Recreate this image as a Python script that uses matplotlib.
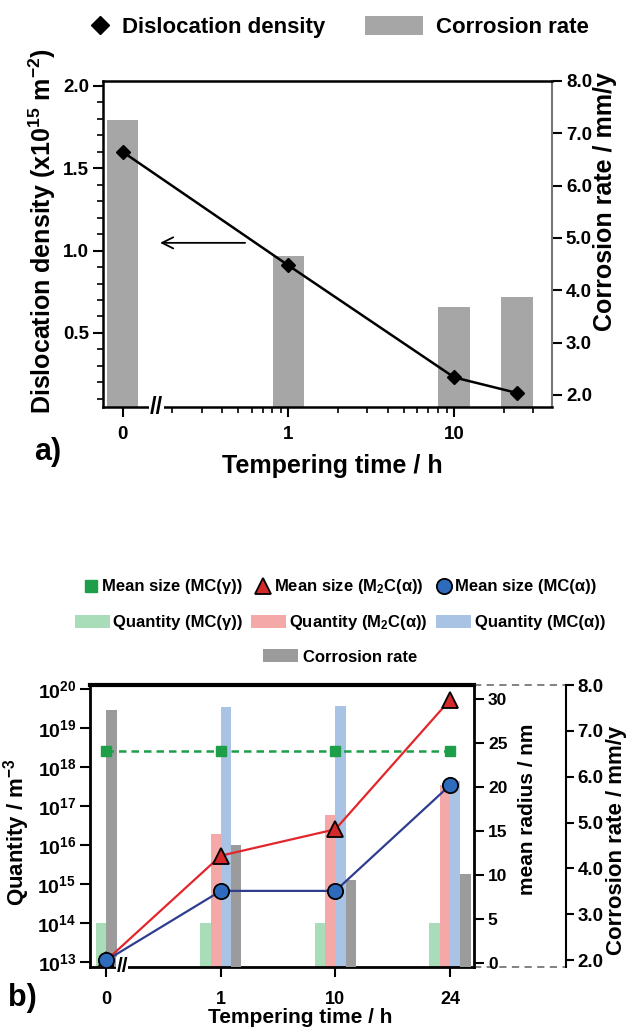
import math
import matplotlib
matplotlib.use("Agg")
import matplotlib.pyplot as plt
from matplotlib.lines import Line2D
from matplotlib.patches import Patch
from matplotlib.transforms import blended_transform_factory
from matplotlib.ticker import FixedLocator, NullFormatter, NullLocator, FormatStrFormatter, FuncFormatter

plt.rcParams.update({
    "font.family": ["Liberation Sans", "DejaVu Sans"],
    "font.weight": "bold",
    "axes.labelweight": "bold",
    "mathtext.fontset": "custom",
    "mathtext.rm": "Liberation Sans:bold",
    "mathtext.bf": "Liberation Sans:bold",
    "mathtext.it": "Liberation Sans:bold:italic",
    "mathtext.sf": "Liberation Sans:bold",
})

# ---------------- data: panel a ----------------
hours_a = [0, 1, 10, 24]
disloc_density = [1.60, 0.91, 0.23, 0.135]       # x10^15 m^-2
corrosion_a = [7.25, 4.65, 3.69, 3.87]           # mm/y
xtick_labels_a = ["0", "1", "10"]

# ---------------- data: panel b ----------------
hours_b = ["0", "1", "10", "24"]
qty_mc_gamma = [1.0e14, 1.0e14, 1.0e14, 1.0e14]
qty_m2c_alpha = [None, 1.9e16, 5.8e16, 3.5e17]
qty_mc_alpha = [None, 3.4e19, 3.6e19, 4.4e17]
corrosion_b = [7.45, 4.50, 3.75, 3.88]
size_mc_gamma = [24.1, 24.1, 24.1, 24.1]
size_m2c_alpha = [0.3, 12.2, 15.2, 29.9]
size_mc_alpha = [0.3, 8.2, 8.2, 20.2]

# ---------------- colours ----------------
c_bar_a = "#a6a6a6"
c_green_bar, c_pink_bar, c_blue_bar, c_gray_bar = "#a9dcb8", "#f4a8a8", "#a8c3e4", "#9b9b9b"
c_green, c_red, c_blue_line, c_blue_fill = "#1f9e4a", "#e3262b", "#2e3d8f", "#2f6bbd"

W, H = 633, 1033
fig = plt.figure(figsize=(W / 100, H / 100), dpi=100)


def rect(l, t, r, b):
    return [l / W, 1 - b / H, (r - l) / W, (b - t) / H]


def break_mark(ax, xdata, size):
    tr = blended_transform_factory(ax.transData, ax.transAxes)
    ax.text(xdata, 0, "//", transform=tr, ha="center", va="center", fontsize=size,
            fontweight="bold", clip_on=False, zorder=20,
            bbox=dict(facecolor="white", edgecolor="none", pad=0.3))


# =============== panel a ===============
ax_a = fig.add_axes(rect(103, 81, 552, 407))
ax_a2 = ax_a.twinx()
ax_a.set_zorder(ax_a2.get_zorder() + 1)
ax_a.patch.set_visible(False)

ZERO_POS = 0.1  # where "0 h" sits on the broken log axis
x_a = [ZERO_POS if h == 0 else h for h in hours_a]
half = 10 ** 0.095
ax_a2.bar([x / half for x in x_a], corrosion_a, width=[x * half - x / half for x in x_a],
          align="edge", color=c_bar_a, edgecolor="none")
ax_a.plot(x_a, disloc_density, color="black", lw=1.8, marker="D", ms=7.5,
          mfc="black", mec="black", zorder=3)
ax_a.annotate("", xy=(0.162, 1.047), xytext=(0.57, 1.047),
              arrowprops=dict(arrowstyle="->", color="black", lw=1.3, mutation_scale=20))

ax_a.set_xscale("log")
ax_a.set_xlim(0.0762, 38.9)
ax_a.xaxis.set_major_locator(FixedLocator([ZERO_POS, 1, 10]))
ax_a.set_xticklabels(xtick_labels_a)
ax_a.xaxis.set_minor_locator(FixedLocator([0.2, 0.3, 0.4, 0.5, 0.6, 0.7, 0.8, 0.9,
                                           2, 3, 4, 5, 6, 7, 8, 9, 20, 30]))
ax_a.xaxis.set_minor_formatter(NullFormatter())
ax_a.set_ylim(0.05, 2.03)
ax_a.yaxis.set_major_locator(FixedLocator([0.5, 1.0, 1.5, 2.0]))
ax_a.yaxis.set_minor_locator(FixedLocator([0.1, 0.2, 0.3, 0.4, 0.6, 0.7, 0.8, 0.9,
                                           1.1, 1.2, 1.3, 1.4, 1.6, 1.7, 1.8, 1.9]))
ax_a.yaxis.set_major_formatter(FormatStrFormatter("%.1f"))
ax_a2.set_ylim(1.77, 8.0)
ax_a2.yaxis.set_major_locator(FixedLocator([2, 3, 4, 5, 6, 7, 8]))
ax_a2.yaxis.set_major_formatter(FormatStrFormatter("%.1f"))

for ax in (ax_a, ax_a2):
    ax.tick_params(which="major", direction="out", length=7, width=1.5, labelsize=13.5)
    ax.tick_params(which="minor", direction="out", length=4, width=1.2)
ax_a.tick_params(axis="y", pad=3)
ax_a.tick_params(axis="x", pad=7)
ax_a2.tick_params(axis="y", pad=3)
for s in ("left", "bottom", "top"):
    ax_a.spines[s].set_linewidth(1.8)
ax_a.spines["right"].set_visible(False)
for s in ("left", "bottom", "top"):
    ax_a2.spines[s].set_visible(False)
ax_a2.spines["right"].set_color("#777777")
ax_a2.spines["right"].set_linewidth(1.5)
break_mark(ax_a, 0.16, 17)

ax_a.set_ylabel("Dislocation density (x10$^{15}$ m$^{-2}$)", fontsize=18)
ax_a.yaxis.label.set_va("center")
ax_a.yaxis.set_label_coords(-0.136, 0.54)
ax_a2.set_ylabel("Corrosion rate / mm/y", fontsize=18)
ax_a2.yaxis.label.set_va("center")
ax_a2.yaxis.set_label_coords(1.118, 0.63)
ax_a.set_xlabel("Tempering time / h", fontsize=18)
ax_a.xaxis.label.set_va("center")
ax_a.xaxis.set_label_coords(0.51, -0.18)
fig.text(48 / W, 1 - 452 / H, "a)", fontsize=22, fontweight="bold", ha="center", va="center")

fig.legend(handles=[Line2D([], [], marker="D", color="black", ls="none", ms=9)],
           labels=["Dislocation density"], loc="center left",
           bbox_to_anchor=(89 / W, 1 - 27 / H), frameon=False, fontsize=16,
           handlelength=1.0, handletextpad=0.5, borderpad=0, borderaxespad=0)
fig.legend(handles=[Patch(facecolor=c_bar_a, edgecolor="none")],
           labels=["Corrosion rate"], loc="center left",
           bbox_to_anchor=(365 / W, 1 - 27 / H), frameon=False, fontsize=16,
           handlelength=2.6, handleheight=0.9, handletextpad=0.6, borderpad=0, borderaxespad=0)

# =============== panel b ===============
ax_q = fig.add_axes(rect(90, 685, 474, 967))
ax_c = ax_q.twinx()
ax_r = ax_q.twinx()
FAR = 1.24
ax_c.spines["right"].set_position(("axes", FAR))
ax_q.set_zorder(1)
ax_c.set_zorder(2)
ax_r.set_zorder(3)
ax_c.patch.set_visible(False)
ax_r.patch.set_visible(False)

ax_q.set_yscale("log")
qty_floor, qty_top = 10 ** 12.87, 10 ** 20.1
ax_q.set_ylim(qty_floor, qty_top)
ax_q.set_xlim(-0.142, 3.21)
ax_c.set_ylim(1.85, 8.0)
ax_r.set_ylim(-0.45, 31.6)

bar_w = 0.09
qty_series = [(qty_mc_gamma, c_green_bar), (qty_m2c_alpha, c_pink_bar), (qty_mc_alpha, c_blue_bar)]
for i in range(len(hours_b)):
    entries = [(ax_q, vals[i], col, qty_floor) for vals, col in qty_series if vals[i] is not None]
    entries.append((ax_c, corrosion_b[i], c_gray_bar, 0))
    n = len(entries)
    for j, (axx, v, col, bot) in enumerate(entries):
        axx.bar(i + (j - n / 2) * bar_w, v - bot, bottom=bot, width=bar_w, align="edge",
                color=col, edgecolor="none")

xb = list(range(len(hours_b)))
ax_r.plot(xb, size_mc_gamma, ls=(0, (3, 2)), color=c_green, lw=1.8, marker="s", ms=7,
          mfc=c_green, mec=c_green)
ax_r.plot(xb, size_m2c_alpha, color=c_red, lw=1.6, marker="^", ms=12, mfc="#d42a2a",
          mec="black", mew=1.3)
ax_r.plot(xb, size_mc_alpha, color=c_blue_line, lw=1.6, marker="o", ms=11, mfc=c_blue_fill,
          mec="black", mew=1.3)

ax_q.xaxis.set_major_locator(FixedLocator(xb))
ax_q.set_xticklabels(hours_b)
ax_q.yaxis.set_major_locator(FixedLocator([10.0 ** k for k in range(13, 21)]))
ax_q.yaxis.set_minor_locator(NullLocator())
ax_q.yaxis.set_major_formatter(FuncFormatter(lambda v, p: r"$10^{%d}$" % round(math.log10(v))))
ax_r.yaxis.set_major_locator(FixedLocator([0, 5, 10, 15, 20, 25, 30]))
ax_c.yaxis.set_major_locator(FixedLocator([2, 3, 4, 5, 6, 7, 8]))
ax_c.yaxis.set_major_formatter(FormatStrFormatter("%.1f"))

ax_q.tick_params(axis="y", direction="out", length=7, width=1.5, labelsize=14, pad=3)
ax_q.tick_params(axis="x", direction="out", length=7, width=1.5, labelsize=13, pad=10)
ax_r.tick_params(axis="y", direction="out", length=7, width=1.5, labelsize=12.5, pad=3)
ax_c.tick_params(axis="y", direction="out", length=6, width=1.5, labelsize=13.5, pad=2)

ax_q.spines["right"].set_visible(False)
ax_q.spines["left"].set_linewidth(2)
ax_q.spines["bottom"].set_linewidth(2)
ax_q.spines["top"].set_linewidth(3)
for axx in (ax_c, ax_r):
    for s in ("left", "bottom", "top"):
        axx.spines[s].set_visible(False)
ax_r.spines["right"].set_linewidth(2)
ax_c.spines["right"].set_linewidth(1.5)
for yy in (0, 1):
    ax_c.plot([1, FAR], [yy, yy], transform=ax_c.transAxes, clip_on=False,
              color="#777777", lw=1.3, ls=(0, (4, 3)))
break_mark(ax_r, 0.14, 15)

ax_q.set_ylabel("Quantity / m$^{-3}$", fontsize=16)
ax_q.yaxis.label.set_va("center")
ax_q.yaxis.set_label_coords(-0.19, 0.48)
ax_r.set_ylabel("mean radius / nm", fontsize=15)
ax_r.yaxis.label.set_va("center")
ax_r.yaxis.set_label_coords(1.14, 0.56)
ax_c.set_ylabel("Corrosion rate / mm/y", fontsize=16)
ax_c.yaxis.label.set_va("center")
ax_c.yaxis.set_label_coords(1.37, 0.45)
ax_q.set_xlabel("Tempering time / h", fontsize=15)
ax_q.xaxis.label.set_va("center")
ax_q.xaxis.set_label_coords(0.547, -0.18)
fig.text(22 / W, 1 - 998 / H, "b)", fontsize=22, fontweight="bold", ha="center", va="center")

leg_x = 340 / W
fig.legend(handles=[Line2D([], [], marker="s", ls="none", color=c_green, ms=8),
                    Line2D([], [], marker="^", ls="none", mfc="#d42a2a", mec="black", mew=1.3, ms=12),
                    Line2D([], [], marker="o", ls="none", mfc=c_blue_fill, mec="black", mew=1.3, ms=11)],
           labels=["Mean size (MC(γ))", "Mean size (M$_2$C(α))", "Mean size (MC(α))"],
           loc="center", bbox_to_anchor=(leg_x, 1 - 587 / H), ncol=3, frameon=False, fontsize=12,
           handlelength=0.9, handletextpad=0.2, columnspacing=0.8, borderpad=0, borderaxespad=0)
fig.legend(handles=[Patch(facecolor=c_green_bar, edgecolor="none"),
                    Patch(facecolor=c_pink_bar, edgecolor="none"),
                    Patch(facecolor=c_blue_bar, edgecolor="none")],
           labels=["Quantity (MC(γ))", "Quantity (M$_2$C(α))", "Quantity (MC(α))"],
           loc="center", bbox_to_anchor=(leg_x, 1 - 623 / H), ncol=3, frameon=False, fontsize=12,
           handlelength=2.1, handleheight=0.8, handletextpad=0.2, columnspacing=0.5,
           borderpad=0, borderaxespad=0)
fig.legend(handles=[Patch(facecolor=c_gray_bar, edgecolor="none")],
           labels=["Corrosion rate"], loc="center", bbox_to_anchor=(leg_x, 1 - 657 / H),
           frameon=False, fontsize=12, handlelength=2.1, handleheight=0.8, handletextpad=0.3,
           borderpad=0, borderaxespad=0)

fig.savefig("out.png", dpi=100)
